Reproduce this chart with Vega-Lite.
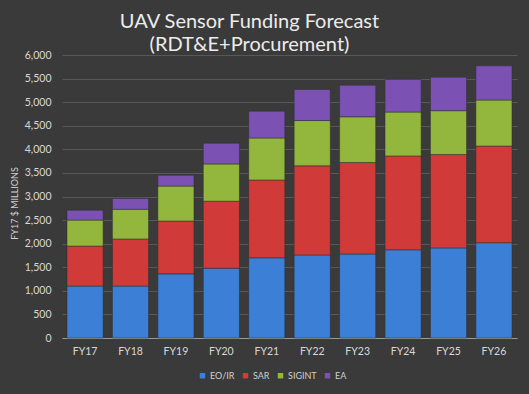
{
  "$schema": "https://vega.github.io/schema/vega-lite/v6.json",
  "width": 455,
  "height": 283,
  "autosize": {"type": "none"},
  "padding": {"left": 62, "top": 55, "right": 12, "bottom": 56},
  "background": "#3a3a3a",
  "title": {
    "text": ["UAV Sensor Funding Forecast", "(RDT&E+Procurement)"],
    "font": "Lato",
    "fontSize": 20,
    "fontWeight": "normal",
    "color": "#ececec",
    "anchor": "middle",
    "dx": -40,
    "dy": 9,
    "offset": 4,
    "lineHeight": 23
  },
  "data": {
    "values": [
      {"year": "FY17", "sensor": "EO/IR", "value": 1100},
      {"year": "FY17", "sensor": "SAR", "value": 850},
      {"year": "FY17", "sensor": "SIGINT", "value": 550},
      {"year": "FY17", "sensor": "EA", "value": 210},
      {"year": "FY18", "sensor": "EO/IR", "value": 1100},
      {"year": "FY18", "sensor": "SAR", "value": 1000},
      {"year": "FY18", "sensor": "SIGINT", "value": 630},
      {"year": "FY18", "sensor": "EA", "value": 230},
      {"year": "FY19", "sensor": "EO/IR", "value": 1360},
      {"year": "FY19", "sensor": "SAR", "value": 1120},
      {"year": "FY19", "sensor": "SIGINT", "value": 740},
      {"year": "FY19", "sensor": "EA", "value": 230},
      {"year": "FY20", "sensor": "EO/IR", "value": 1480},
      {"year": "FY20", "sensor": "SAR", "value": 1420},
      {"year": "FY20", "sensor": "SIGINT", "value": 790},
      {"year": "FY20", "sensor": "EA", "value": 440},
      {"year": "FY21", "sensor": "EO/IR", "value": 1700},
      {"year": "FY21", "sensor": "SAR", "value": 1650},
      {"year": "FY21", "sensor": "SIGINT", "value": 890},
      {"year": "FY21", "sensor": "EA", "value": 570},
      {"year": "FY22", "sensor": "EO/IR", "value": 1760},
      {"year": "FY22", "sensor": "SAR", "value": 1890},
      {"year": "FY22", "sensor": "SIGINT", "value": 960},
      {"year": "FY22", "sensor": "EA", "value": 660},
      {"year": "FY23", "sensor": "EO/IR", "value": 1780},
      {"year": "FY23", "sensor": "SAR", "value": 1940},
      {"year": "FY23", "sensor": "SIGINT", "value": 970},
      {"year": "FY23", "sensor": "EA", "value": 670},
      {"year": "FY24", "sensor": "EO/IR", "value": 1870},
      {"year": "FY24", "sensor": "SAR", "value": 1990},
      {"year": "FY24", "sensor": "SIGINT", "value": 930},
      {"year": "FY24", "sensor": "EA", "value": 690},
      {"year": "FY25", "sensor": "EO/IR", "value": 1910},
      {"year": "FY25", "sensor": "SAR", "value": 1980},
      {"year": "FY25", "sensor": "SIGINT", "value": 930},
      {"year": "FY25", "sensor": "EA", "value": 710},
      {"year": "FY26", "sensor": "EO/IR", "value": 2020},
      {"year": "FY26", "sensor": "SAR", "value": 2050},
      {"year": "FY26", "sensor": "SIGINT", "value": 975},
      {"year": "FY26", "sensor": "EA", "value": 725}
    ]
  },
  "transform": [
    {"calculate": "indexof(['EO/IR', 'SAR', 'SIGINT', 'EA'], datum.sensor)", "as": "stackOrder"}
  ],
  "mark": {"type": "bar", "stroke": "#2e2e2e", "strokeWidth": 0.5},
  "encoding": {
    "x": {
      "field": "year",
      "type": "nominal",
      "sort": null,
      "scale": {"paddingInner": 0.205, "paddingOuter": 0.11},
      "axis": {
        "title": null,
        "labelAngle": 0,
        "labelFont": "Lato",
        "labelFontSize": 10.5,
        "labelColor": "#d8d8d8",
        "labelPadding": 8,
        "ticks": false,
        "domainColor": "#9a9a9a",
        "domainWidth": 1.2,
        "grid": false
      }
    },
    "y": {
      "field": "value",
      "type": "quantitative",
      "stack": "zero",
      "scale": {"domain": [0, 6000], "nice": false},
      "axis": {
        "title": "FY17 $ MILLIONS",
        "titleFont": "Lato",
        "titleFontSize": 9,
        "titleFontWeight": "normal",
        "titleColor": "#d0d0d0",
        "titleX": -48,
        "titleY": 148,
        "titleAngle": -90,
        "titleAlign": "center",
        "titleBaseline": "middle",
        "values": [0, 500, 1000, 1500, 2000, 2500, 3000, 3500, 4000, 4500, 5000, 5500, 6000],
        "format": ",.0f",
        "labelFont": "Lato",
        "labelFontSize": 10.5,
        "labelColor": "#d8d8d8",
        "labelPadding": 11,
        "ticks": false,
        "domain": false,
        "grid": true,
        "gridColor": "#585858",
        "gridWidth": 1
      }
    },
    "color": {
      "field": "sensor",
      "type": "nominal",
      "sort": ["EO/IR", "SAR", "SIGINT", "EA"],
      "scale": {
        "domain": ["EO/IR", "SAR", "SIGINT", "EA"],
        "range": ["#3b7fd6", "#d03b39", "#92b73c", "#7b51b4"]
      },
      "legend": {
        "title": null,
        "orient": "none",
        "direction": "horizontal",
        "legendX": 136,
        "legendY": 316,
        "symbolType": "square",
        "symbolSize": 30,
        "symbolStrokeWidth": 0,
        "labelFont": "Lato",
        "labelFontSize": 9,
        "labelColor": "#d0d0d0",
        "labelOffset": 3,
        "columnPadding": 6
      }
    },
    "order": {"field": "stackOrder", "type": "quantitative", "sort": "ascending"}
  },
  "config": {
    "view": {"stroke": null},
    "font": "Lato"
  }
}
